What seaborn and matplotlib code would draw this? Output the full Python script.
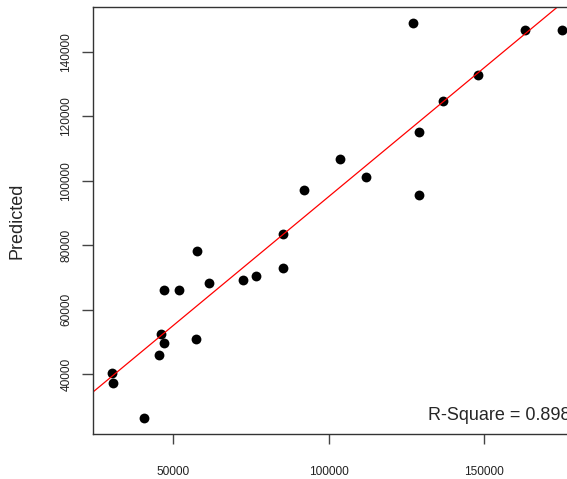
import matplotlib
matplotlib.use("Agg")
import matplotlib.pyplot as plt
import seaborn as sns
import pandas as pd

# valores (actual vs predicted)
actual = [127087, 163247, 175161, 148113, 136747, 129019, 103677, 111953,
          92085, 129019, 85323, 57535, 85323, 61592, 72347, 76533,
          47005, 51932, 46039, 47005, 57213, 45492, 30261, 30680, 40662]
predicted = [148810, 146733, 146733, 132783, 124723, 115020, 106743, 101163,
             97133, 95490, 83400, 78316, 72953, 68303, 69233, 70473,
             66226, 66226, 52400, 49796, 50943, 45890, 40403, 37303, 26360]
fit_intercept = 15250
fit_slope = 0.798
r_square = 0.898

df = pd.DataFrame({'Actual': actual, 'Predicted': predicted})

sns.set_style("white")
plt.rcParams['font.family'] = ['Liberation Sans', 'DejaVu Sans']

fig = plt.figure(figsize=(5.67, 4.79), dpi=100)
# eixo com a direita cortada como no original
ax = fig.add_axes([93.3 / 567, 45 / 479, 480 / 567, 427.3 / 479])

sns.scatterplot(data=df, x='Actual', y='Predicted', color='black', s=50,
                edgecolor='black', linewidth=0, ax=ax)

ax.axline((0, fit_intercept), slope=fit_slope, color='red', lw=0.9)

ax.set_xlim(24240, 24240 + 480 * 322)
ax.set_ylim(21500, 153950)

ax.set_xticks([50000, 100000, 150000])
ax.set_yticks([40000, 60000, 80000, 100000, 120000, 140000])
ax.set_xticklabels(['50000', '100000', '150000'])
ax.set_yticklabels(['40000', '60000', '80000', '100000', '120000', '140000'],
                   rotation=90, va='center')
ax.tick_params(axis='x', length=7, width=1, pad=16, labelsize=8.6,
               color='#444444', labelcolor='#222222', bottom=True)
ax.tick_params(axis='y', length=8, width=1, pad=7, labelsize=8.6,
               color='#444444', labelcolor='#222222', left=True)

for side in ['left', 'bottom', 'top']:
    ax.spines[side].set_color('#333333')
    ax.spines[side].set_linewidth(1)
ax.spines['right'].set_visible(False)

ax.set_xlabel('')
ax.set_ylabel('Predicted', fontsize=13)
ax.yaxis.set_label_coords(-0.142, 0.5)

ax.text(131917, 27383, f'R-Square = {r_square}', fontsize=13,
        ha='left', va='center')

fig.savefig('out.png', dpi=100)
